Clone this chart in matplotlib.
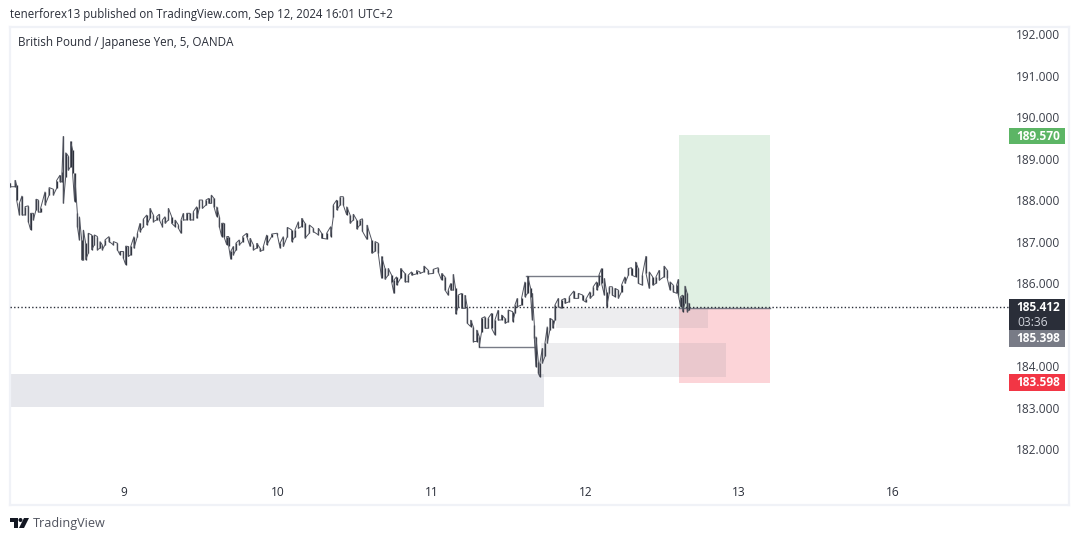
import matplotlib
matplotlib.use("Agg")
import matplotlib.pyplot as plt
from matplotlib.patches import Rectangle, Polygon, Circle
from matplotlib.transforms import blended_transform_factory, Affine2D

# ---- data -------------------------------------------------------------
days = [8.259,8.292,8.302,8.320,8.337,8.357,8.378,8.393,8.411,8.428,8.443,8.458,8.487,8.513,8.541,8.562,8.584,8.597,8.606,8.621,8.638,8.653,8.666,8.679,8.697,8.710,8.725,8.736,8.751,8.768,8.790,8.807,8.827,8.844,8.859,8.877,8.903,8.931,8.957,8.974,8.996,9.011,9.028,9.044,9.065,9.087,9.104,9.126,9.148,9.169,9.191,9.213,9.230,9.250,9.267,9.289,9.310,9.332,9.354,9.371,9.386,9.408,9.429,9.451,9.473,9.490,9.510,9.533,9.551,9.568,9.585,9.603,9.620,9.635,9.650,9.668,9.681,9.694,9.711,9.728,9.750,9.772,9.798,9.820,9.841,9.863,9.885,9.906,9.928,9.960,9.997,10.015,10.036,10.062,10.090,10.112,10.134,10.155,10.177,10.205,10.231,10.264,10.285,10.318,10.344,10.361,10.383,10.405,10.426,10.448,10.470,10.491,10.513,10.534,10.55,10.58,10.610,10.632,10.653,10.675,10.697,10.718,10.740,10.755,10.772,10.798,10.827,10.848,10.870,10.902,10.924,10.950,10.978,11.011,11.043,11.065,11.087,11.108,11.124,11.141,11.156,11.173,11.195,11.217,11.232,11.254,11.271,11.293,11.310,11.325,11.347,11.368,11.390,11.412,11.433,11.455,11.477,11.498,11.527,11.542,11.557,11.585,11.607,11.624,11.644,11.655,11.668,11.678,11.694,11.704,11.720,11.737,11.752,11.769,11.787,11.802,11.824,11.845,11.867,11.895,11.925,11.954,11.982,12.003,12.030,12.051,12.073,12.088,12.105,12.123,12.138,12.155,12.175,12.192,12.214,12.235,12.257,12.279,12.300,12.326,12.344,12.370,12.394,12.415,12.437,12.459,12.480,12.511,12.532,12.550,12.571,12.593,12.604,12.619,12.632,12.647,12.662,12.673]
highs = [188.40,188.48,188.36,187.92,188.10,187.84,187.86,187.68,187.68,188.02,188.00,187.80,188.20,188.30,188.26,188.47,188.60,188.68,189.54,189.14,189.06,189.41,189.21,188.64,187.68,187.60,187.04,187.28,186.96,187.20,187.16,187.16,187.12,187.00,186.92,187.04,187.12,187.00,186.96,186.76,186.76,186.89,186.88,186.88,187.12,187.20,187.44,187.54,187.64,187.80,187.64,187.60,187.66,187.52,187.60,187.80,187.60,187.52,187.40,187.52,187.68,187.68,187.68,187.72,187.84,188.00,188.00,188.00,188.04,188.12,188.04,187.84,187.60,187.44,187.44,187.12,187.12,186.76,186.88,186.96,187.04,187.12,187.20,187.08,186.92,186.96,186.84,186.88,187.16,187.18,187.20,186.96,187.12,187.34,187.28,187.28,187.48,187.56,187.44,187.40,187.32,187.32,187.20,187.20,187.36,187.88,188.00,188.08,188.08,187.84,187.64,187.66,187.52,187.52,187.55,187.40,187.04,187.00,186.96,186.64,186.35,186.35,186.19,186.07,186.15,186.35,186.23,186.19,186.27,186.30,186.27,186.41,186.31,186.33,186.37,186.23,186.15,185.83,185.99,186.21,185.87,185.71,185.75,185.71,185.43,185.11,184.95,184.87,184.71,185.15,185.19,185.15,185.27,185.11,185.35,185.23,185.15,185.35,185.31,185.47,185.63,185.63,186.03,186.17,185.87,185.75,184.99,184.71,184.10,184.07,184.43,184.55,184.95,185.15,185.11,185.47,185.63,185.59,185.63,185.67,185.81,185.75,185.71,185.61,185.79,185.91,186.03,186.19,186.35,186.11,185.79,185.91,185.91,185.87,185.83,185.95,186.15,186.35,186.37,186.51,186.35,186.19,186.65,186.27,186.15,186.15,186.31,186.41,186.31,186.03,185.95,185.95,186.09,185.67,185.71,185.93,185.75,185.51]
lows = [188.32,188.32,188.00,187.64,187.64,187.64,187.48,187.28,187.52,187.76,187.72,187.70,187.88,188.12,188.12,188.28,188.44,188.44,187.92,188.56,188.72,188.80,188.64,187.96,187.36,187.04,186.56,186.56,186.56,186.72,186.80,186.92,186.80,186.84,186.80,186.92,187.00,186.92,186.80,186.68,186.60,186.44,186.64,186.68,186.84,187.12,187.24,187.36,187.40,187.56,187.48,187.52,187.52,187.36,187.44,187.52,187.44,187.36,187.32,187.20,187.52,187.52,187.52,187.52,187.56,187.80,187.80,187.88,187.92,187.92,187.84,187.60,187.36,187.12,187.12,186.92,186.88,186.57,186.68,186.80,186.92,187.00,187.12,186.88,186.80,186.84,186.76,186.80,186.92,187.12,187.16,186.84,186.88,187.12,187.00,187.12,187.32,187.36,187.08,187.20,187.24,187.16,187.08,187.06,187.12,187.60,187.76,187.88,187.88,187.64,187.44,187.52,187.30,187.40,187.25,187.05,186.72,186.76,186.72,186.11,186.09,186.19,186.03,185.75,185.95,186.11,186.03,186.03,186.19,186.22,186.23,186.27,186.22,186.23,186.27,186.07,185.83,185.71,185.83,185.83,185.25,185.43,185.39,185.39,185.03,184.95,184.59,184.59,184.47,184.83,184.91,184.91,184.91,184.75,185.11,185.11,185.03,185.07,185.07,185.27,185.43,185.47,185.67,185.75,185.67,185.11,184.67,183.98,183.82,183.74,184.07,184.23,184.55,184.87,184.91,185.11,185.43,185.39,185.51,185.55,185.63,185.63,185.59,185.54,185.63,185.71,185.83,185.95,185.99,185.71,185.43,185.75,185.71,185.67,185.63,185.79,185.99,186.19,186.19,186.15,185.99,185.95,186.23,185.87,185.95,185.99,186.07,186.15,186.11,185.83,185.79,185.75,185.71,185.43,185.31,185.51,185.31,185.35]
y_ticks = [182, 183, 184, 186, 187, 188, 189, 190, 191, 192]
y_tick_labels = ["182.000", "183.000", "184.000", "186.000", "187.000", "188.000", "189.000", "190.000", "191.000", "192.000"]
x_ticks = [9, 10, 11, 12, 13, 14]
x_tick_labels = ["9", "10", "11", "12", "13", "16"]
last_price = 185.412
entry = 185.398
target = 189.570
stop = 183.598

W, H = 1080, 541
DARK = "#2a2e39"
FONT = ["Open Sans", "DejaVu Sans"]
plt.rcParams["font.family"] = FONT

fig = plt.figure(figsize=(W / 100, H / 100), dpi=100, facecolor="white")
L, R, T, B = 10, 1069, 27, 505
ax = fig.add_axes([L / W, 1 - B / H, (R - L) / W, (B - T) / H])
ax.set_xlim(8.259, 15.144)
ax.set_ylim(180.651, 192.169)
for s in ax.spines.values():
    s.set_color("#f0f2f7")
    s.set_linewidth(1.6)

ax.yaxis.tick_right()
ax.set_yticks(y_ticks, y_tick_labels, fontsize=8.6, color="#3a3e49", ha="left")
ax.tick_params(axis="y", length=0, pad=-38)
ax.set_xticks(x_ticks, x_tick_labels, fontsize=8.6, color="#2a2e39")
ax.tick_params(axis="x", length=0, pad=-14)

# Zones
ax.add_patch(Rectangle((8.259, 183.012), 11.731 - 8.259, 183.807 - 183.012, fc="#e6e7ec", ec="none", zorder=1))
ax.add_patch(Rectangle((12.609, entry), 13.2 - 12.609, target - entry, fc="#e0f0e3", ec="none", zorder=1))
ax.add_patch(Rectangle((12.609, stop), 13.2 - 12.609, entry - stop, fc="#fcd4d8", ec="none", zorder=1))
ax.add_patch(Rectangle((11.809, 184.916), 12.797 - 11.809, entry - 184.916, fc="#787b86", alpha=0.13, ec="none", zorder=2))
ax.add_patch(Rectangle((11.711, 183.735), 12.914 - 11.711, 184.554 - 183.735, fc="#787b86", alpha=0.13, ec="none", zorder=2))

# Structure lines
ax.plot([11.611, 12.095], [186.17, 186.17], color="#787b86", lw=1, zorder=3)
ax.plot([11.31, 11.672], [184.47, 184.47], color="#787b86", lw=1, zorder=3)
ax.plot([12.609, 13.2], [entry, entry], color="#787b86", lw=1, zorder=3)

# Price: a scribble through each bar's range, which reads like dense 5 minute candles
ax.vlines(days, lows, highs, color=DARK, lw=0.95, zorder=4)
path_x, path_y = [], []
for i, (d, h, l) in enumerate(zip(days, highs, lows)):
    path_x += [d, d]
    path_y += [h, l] if i % 2 == 0 else [l, h]
ax.plot(path_x, path_y, color="#50535e", lw=0.7, zorder=4, solid_joinstyle="bevel")

# Last price dotted line (stops at the price scale)
tr = blended_transform_factory(ax.transAxes, ax.transData)
xa = lambda px: (px - L) / (R - L)
ax.plot([0, xa(1009)], [last_price] * 2, transform=tr, color=DARK, lw=1, ls=(0, (1, 1.6)), zorder=3)


def tag(y0, y1, color, zorder=6):
    ax.add_patch(Rectangle((xa(1009), y0), xa(1065) - xa(1009), y1 - y0, transform=tr, fc=color, ec="none", zorder=zorder, clip_on=False))


def price(px):
    return 192 - (px - 34) / 41.5


tag(price(144), price(128), "#5cb565")
ax.text(xa(1038), price(136), f"{target:.3f}", transform=tr, ha="center", va="center", color="white", fontsize=8.6, fontweight="bold", zorder=7)
tag(price(330), price(299), DARK)
ax.text(xa(1038), price(307), f"{last_price:.3f}", transform=tr, ha="center", va="center", color="white", fontsize=8.6, fontweight="bold", zorder=7)
ax.text(xa(1017), price(322), "03:36", transform=tr, ha="left", va="center", color="#d1d4dc", fontsize=8.6, zorder=7)
tag(price(347), price(330), "#787b86")
ax.text(xa(1038), price(338.5), f"{entry:.3f}", transform=tr, ha="center", va="center", color="white", fontsize=8.6, fontweight="bold", zorder=7)
tag(price(391), price(374), "#f23645")
ax.text(xa(1038), price(382.5), f"{stop:.3f}", transform=tr, ha="center", va="center", color="white", fontsize=8.6, fontweight="bold", zorder=7)

# Header and footer text
fig.text(10 / W, 1 - 14.5 / H, "tenerforex13 published on TradingView.com, Sep 12, 2024 16:01 UTC+2", fontsize=8.3, color="#2a2e39", va="center", ha="left")
fig.text(18 / W, 1 - 42.5 / H, "British Pound / Japanese Yen, 5, OANDA", fontsize=8.35, color="#2a2e39", va="center", ha="left")
fig.text(33 / W, 1 - 523.5 / H, "TradingView", fontsize=9.1, color="#50535e", va="center", ha="left")

# Logo, in pixel coordinates
px = Affine2D().scale(1, -1).translate(0, H)
logo = [
    Polygon([(10, 518), (18, 518), (18, 528), (14, 528), (14, 522), (10, 522)], closed=True, fc="#131722", ec="none", transform=px),
    Circle((20.5, 520), 2, fc="#131722", ec="none", transform=px),
    Polygon([(24, 518), (29, 518), (24, 528), (19, 528)], closed=True, fc="#131722", ec="none", transform=px),
]
for p in logo:
    fig.add_artist(p)

fig.savefig("out.png", dpi=100)
